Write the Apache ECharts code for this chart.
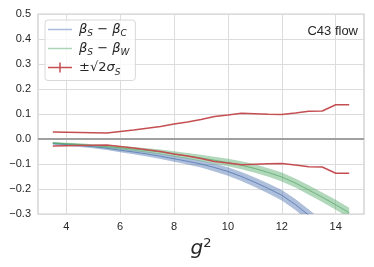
<!DOCTYPE html>
<html><head><meta charset="utf-8">
<script src="https://cdn.jsdelivr.net/npm/echarts@6/dist/echarts.min.js"></script>
<style>html,body{margin:0;padding:0;background:#fff}#c{width:374px;height:267px}</style>
</head><body><div id="c"></div>
<script>
// g^2 values
const g2 = [3.5,4,4.5,5,5.5,6,6.5,7,7.5,8,8.5,9,9.5,10,10.5,11,11.5,12,12.5,13,13.5,14,14.5];
// beta_S - beta_C (center, half-width)
const betaSC = [-0.018,-0.022,-0.026,-0.031,-0.037,-0.045,-0.052,-0.060,-0.069,-0.079,-0.089,-0.100,-0.114,-0.130,-0.150,-0.173,-0.198,-0.225,-0.262,-0.305,-0.350,-0.400,-0.455];
const betaSCErr = [0.005,0.005,0.006,0.006,0.007,0.008,0.009,0.010,0.011,0.012,0.013,0.014,0.016,0.017,0.018,0.019,0.020,0.021,0.022,0.023,0.024,0.025,0.026];
// beta_S - beta_W (center, half-width)
const betaSW = [-0.016,-0.019,-0.022,-0.026,-0.030,-0.035,-0.040,-0.046,-0.052,-0.060,-0.068,-0.076,-0.085,-0.094,-0.105,-0.118,-0.134,-0.152,-0.176,-0.204,-0.233,-0.263,-0.295];
const betaSWErr = [0.004,0.004,0.005,0.005,0.006,0.007,0.008,0.009,0.010,0.011,0.012,0.013,0.014,0.015,0.016,0.017,0.017,0.018,0.018,0.019,0.019,0.020,0.020];
// sqrt(2) sigma_S
const sigma = [0.028,0.027,0.026,0.025,0.024,0.030,0.036,0.043,0.050,0.060,0.068,0.078,0.090,0.096,0.103,0.101,0.099,0.098,0.104,0.111,0.112,0.137,0.137];
const xTicks = [4,6,8,10,12,14];

const BLUE = '#4c72b0', GREEN = '#55a868', RED = '#c44e52';
const FONT = 'Liberation Sans';

function band(center, err, color) {
  return function (params, api) {
    if (params.dataIndex !== 0) return;
    const pts = [];
    for (let i = 0; i < g2.length; i++) pts.push(api.coord([g2[i], center[i] + err[i]]));
    for (let i = g2.length - 1; i >= 0; i--) pts.push(api.coord([g2[i], center[i] - err[i]]));
    return { type: 'polygon', shape: { points: pts }, style: { fill: color, opacity: 0.45 } };
  };
}
const pairs = (ys) => g2.map((x, i) => [x, ys[i]]);

const chart = echarts.init(document.getElementById('c'), null, { renderer: 'canvas' });
const mathRich = {
  i: { fontFamily: 'DejaVu Sans', fontStyle: 'italic', fontSize: 13, lineHeight: 17, color: '#262626' },
  s: { fontFamily: 'DejaVu Sans', fontStyle: 'italic', fontSize: 9, lineHeight: 11, verticalAlign: 'bottom', color: '#262626' },
  t: { fontFamily: 'DejaVu Sans', fontSize: 13, lineHeight: 17, color: '#262626' },
  r: { fontFamily: 'DejaVu Sans', fontSize: 13, lineHeight: 20, color: '#262626' },
  i2: { fontFamily: 'DejaVu Sans', fontStyle: 'italic', fontSize: 13, lineHeight: 20, color: '#262626' },
  s2: { fontFamily: 'DejaVu Sans', fontStyle: 'italic', fontSize: 9, lineHeight: 13, verticalAlign: 'bottom', color: '#262626' }
};
const labels = {
  bc: '{i|β}{s|S}{t| − }{i|β}{s|C}',
  bw: '{i|β}{s|S}{t| − }{i|β}{s|W}',
  sig: '{r|±√2}{i2|σ}{s2|S}'
};
const lineIcon = 'path://M0,0 L24,0 L24,1.5 L0,1.5 Z';
const plusIcon = 'path://M0,4.25 L24,4.25 L24,5.75 L0,5.75 Z M11.25,0 L12.75,0 L12.75,10 L11.25,10 Z';

chart.setOption({
  backgroundColor: '#fff',
  animation: false,
  title: {
    text: 'C43 flow', right: 16, top: 25, padding: 0,
    textStyle: { fontFamily: FONT, fontSize: 13, fontWeight: 'normal', color: '#262626' }
  },
  grid: { left: 38, right: 10, top: 14, bottom: 53, show: true, borderColor: '#cccccc', borderWidth: 1.25, backgroundColor: 'transparent' },
  legend: {
    orient: 'vertical', left: 45, top: 20, padding: [3, 6, 3, 3], itemGap: 4,
    itemWidth: 24, itemHeight: 10,
    backgroundColor: 'rgba(255,255,255,0.8)', borderColor: '#d8d8d8', borderWidth: 1, borderRadius: 3,
    formatter: (n) => labels[n],
    textStyle: { rich: mathRich, padding: [0, 0, 0, 2] },
    data: [
      { name: 'bc', icon: lineIcon, itemStyle: { color: '#a9bcdc' } },
      { name: 'bw', icon: lineIcon, itemStyle: { color: '#acd5b6' } },
      { name: 'sig', icon: plusIcon, itemStyle: { color: RED } }
    ]
  },
  xAxis: {
    type: 'value', min: 2.95, max: 15.05,
    name: '{g|g}{p|2}', nameLocation: 'middle', nameGap: 20,
    nameTextStyle: {
      rich: {
        g: { fontFamily: 'DejaVu Sans', fontStyle: 'italic', fontSize: 20, lineHeight: 24, color: '#262626' },
        p: { fontFamily: 'DejaVu Sans', fontSize: 13, lineHeight: 14, verticalAlign: 'top', color: '#262626' }
      }
    },
    axisLine: { show: false },
    axisTick: { show: false, customValues: xTicks },
    axisLabel: { customValues: xTicks, fontFamily: FONT, fontSize: 11, color: '#262626', margin: 7 },
    splitLine: { show: true, lineStyle: { color: '#dcdcdc', width: 1 } }
  },
  yAxis: {
    type: 'value', min: -0.3, max: 0.5, interval: 0.1,
    axisLine: { show: false }, axisTick: { show: false },
    axisLabel: {
      fontFamily: FONT, fontSize: 11, color: '#262626', margin: 7,
      formatter: (v) => (v < -1e-9 ? '−' : '') + Math.abs(v).toFixed(1)
    },
    splitLine: { show: true, lineStyle: { color: '#dcdcdc', width: 1 } }
  },
  series: [
    { type: 'custom', name: 'bcBand', clip: true, renderItem: band(betaSC, betaSCErr, BLUE), data: pairs(betaSC), z: 2 },
    { type: 'line', name: 'bc', data: pairs(betaSC), symbol: 'none', lineStyle: { color: BLUE, width: 1, opacity: 0.75 }, itemStyle: { color: BLUE }, z: 3,
      markLine: { silent: true, symbol: 'none', label: { show: false }, lineStyle: { color: '#a0a0a0', width: 2, type: 'solid' }, data: [{ yAxis: 0 }] } },
    { type: 'custom', name: 'bwBand', clip: true, renderItem: band(betaSW, betaSWErr, GREEN), data: pairs(betaSW), z: 4 },
    { type: 'line', name: 'bw', data: pairs(betaSW), symbol: 'none', lineStyle: { color: GREEN, width: 1, opacity: 0.75 }, itemStyle: { color: GREEN }, z: 5 },
    { type: 'line', name: 'sig', data: pairs(sigma), symbol: 'none', lineStyle: { color: RED, width: 1.5 }, itemStyle: { color: RED }, z: 6 },
    { type: 'line', name: 'sig', data: pairs(sigma.map(v => -v)), symbol: 'none', lineStyle: { color: RED, width: 1.5 }, itemStyle: { color: RED }, z: 6 }
  ]
});
</script>
</body></html>
